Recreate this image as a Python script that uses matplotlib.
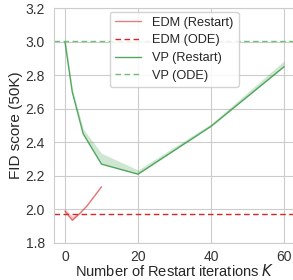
import matplotlib
matplotlib.use("Agg")
import matplotlib.pyplot as plt
import seaborn as sns

# EDM restart sampler vs its ODE baseline
edm_k = [0, 2, 4, 6, 10]
edm_fid = [1.99, 1.935, 1.975, 2.02, 2.135]
edm_fid_hi = [2.005, 1.96, 1.98, 2.025, 2.14]
edm_ode = 1.97

# VP restart sampler vs its ODE baseline
vp_k = [0, 2, 5, 10, 20, 40, 60]
vp_fid = [3.00, 2.70, 2.45, 2.27, 2.21, 2.495, 2.85]
vp_fid_hi = [3.03, 2.72, 2.48, 2.335, 2.235, 2.51, 2.885]
vp_ode = 3.005

x_ticks = [0, 20, 40, 60]
y_ticks = [1.8, 2.0, 2.2, 2.4, 2.6, 2.8, 3.0, 3.2]

RED = "#d62728"
GREEN = "#3f9f4f"

sns.set_style("whitegrid")
plt.rcParams["font.family"] = ["Liberation Sans", "DejaVu Sans"]

fig = plt.figure(figsize=(2.93, 2.80), dpi=100)
ax = fig.add_axes([54 / 293, 37 / 280, 241 / 293, 235 / 280])

ax.plot(edm_k, edm_fid, color=RED, alpha=0.6, lw=1.0, label="EDM (Restart)")
ax.fill_between(edm_k, edm_fid, edm_fid_hi, color=RED, alpha=0.25, lw=0)
ax.axhline(edm_ode, color=RED, ls="--", lw=1.0, dashes=(4, 2.5), label="EDM (ODE)")
ax.plot(vp_k, vp_fid, color=GREEN, alpha=0.9, lw=1.0, label="VP (Restart)")
ax.fill_between(vp_k, vp_fid, vp_fid_hi, color=GREEN, alpha=0.25, lw=0)
ax.axhline(vp_ode, color="#72c075", ls="--", lw=1.0, dashes=(4, 2.5), label="VP (ODE)")

ax.set_xlim(-3, 63)
ax.set_ylim(1.8, 3.2)
ax.set_xticks(x_ticks)
ax.set_yticks(y_ticks)
ax.set_yticklabels([f"{v:.1f}" for v in y_ticks])
ax.tick_params(labelsize=10, pad=3, colors="#333333")
ax.tick_params(axis="x", pad=1.5)
ax.set_xlabel("Number of Restart iterations $K$", fontsize=10.5, labelpad=-0.5)
ax.set_ylabel("FID score (50K)", fontsize=11, labelpad=2)
for s in ax.spines.values():
    s.set_color("#cccccc")

leg = ax.legend(loc="upper left", bbox_to_anchor=(0.232, 0.985), fontsize=9.2,
                handlelength=2.0, handletextpad=0.9, borderpad=0.4,
                labelspacing=0.45, borderaxespad=0, framealpha=0.85)

fig.savefig("out.png", dpi=100)
